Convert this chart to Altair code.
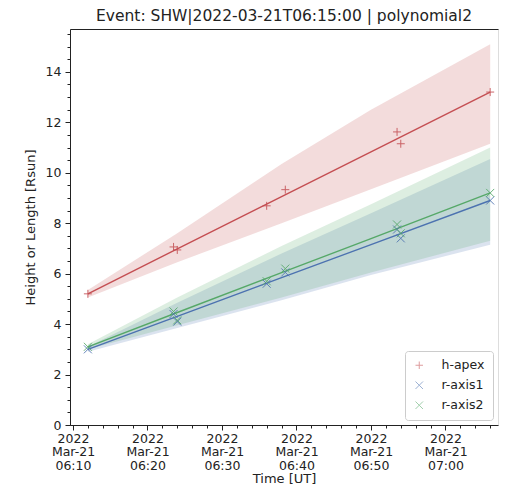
import altair as alt
import pandas as pd

# ---------------- data ----------------
series_names = ["h-apex", "r-axis1", "r-axis2"]
series_colors = ["#c44e52", "#4c72b0", "#55a868"]
marker_paths = ["M-1,0L1,0M0,-1L0,1", "M-1,-1L1,1M-1,1L1,-1", "M-1,-1L1,1M-1,1L1,-1"]

day = "2022-03-21T"
obs_times = ["06:12:00", "06:23:30", "06:24:00", "06:36:00", "06:38:30",
             "06:53:30", "06:54:00", "07:06:00"]
obs_h_apex = [5.2, 7.06, 6.94, 8.69, 9.33, 11.62, 11.15, 13.2]
obs_r_axis1 = [3.0, 4.4, 4.1, 5.6, 6.05, 7.75, 7.4, 8.9]
obs_r_axis2 = [3.1, 4.5, 4.15, 5.7, 6.2, 7.95, 7.6, 9.2]

fit_times = ["06:12:00", "06:24:00", "06:38:00", "06:50:00", "07:06:00"]
fit_h_apex = [5.2, 6.98, 9.05, 10.83, 13.2]
fit_h_apex_lo = [5.05, 6.45, 8.0, 9.35, 11.15]
fit_h_apex_hi = [5.35, 7.6, 10.35, 12.5, 15.1]
fit_r_axis1 = [3.0, 4.31, 5.84, 7.15, 8.9]
fit_r_axis1_lo = [2.9, 3.85, 4.95, 5.95, 7.15]
fit_r_axis1_hi = [3.1, 4.85, 6.8, 8.4, 10.55]
fit_r_axis2 = [3.1, 4.46, 6.04, 7.39, 9.2]
fit_r_axis2_lo = [3.0, 3.95, 5.05, 6.05, 7.3]
fit_r_axis2_hi = [3.2, 5.05, 7.1, 8.75, 11.0]

y_major = [0, 2, 4, 6, 8, 10, 12, 14]
y_minor = [i * 0.5 for i in range(32)]
x_major_minutes = [(6, 10), (6, 20), (6, 30), (6, 40), (6, 50), (7, 0)]
x_minor_minutes = [(6 + (10 + 2 * i) // 60, (10 + 2 * i) % 60) for i in range(29)]

title_text = "Event: SHW|2022-03-21T06:15:00 | polynomial2"

# ---------------- tables ----------------
obs_rows = []
for name, vals in zip(series_names, [obs_h_apex, obs_r_axis1, obs_r_axis2]):
    for t, v in zip(obs_times, vals):
        obs_rows.append({"time": day + t + "Z", "series": name, "value": v})
obs_df = pd.DataFrame(obs_rows)

fit_rows = []
for name, f, lo, hi in zip(series_names,
                           [fit_h_apex, fit_r_axis1, fit_r_axis2],
                           [fit_h_apex_lo, fit_r_axis1_lo, fit_r_axis2_lo],
                           [fit_h_apex_hi, fit_r_axis1_hi, fit_r_axis2_hi]):
    for t, a, b, c in zip(fit_times, f, lo, hi):
        fit_rows.append({"time": day + t + "Z", "series": name, "fit": a, "lo": b, "hi": c})
fit_df = pd.DataFrame(fit_rows)


def dt(h, m, s=0):
    return alt.DateTime(year=2022, month=3, date=21, hours=h, minutes=m, seconds=s, utc=True)


x_scale = alt.Scale(type="utc", domain=[dt(6, 9, 36), dt(7, 7, 3)])
y_scale = alt.Scale(domain=[0, 15.7], nice=False, zero=False)

FONT = "DejaVu Sans"
TXT = "#222222"

x_axis_major = alt.Axis(
    orient="bottom",
    values=[dt(h, m) for h, m in x_major_minutes],
    labelExpr="[utcFormat(datum.value, '%Y'), utcFormat(datum.value, '%b-%d'), utcFormat(datum.value, '%H:%M')]",
    labelLineHeight=13.5, labelFontSize=12.5, labelFont=FONT, labelColor=TXT,
    labelPadding=2, labelOverlap=False, labelFlush=False,
    tickSize=5, tickColor=TXT, domainColor=TXT, grid=False,
    title="Time [UT]", titleFont=FONT, titleFontSize=13, titleFontWeight="normal",
    titleColor=TXT, titlePadding=1,
)
y_axis_major = alt.Axis(
    orient="left",
    values=y_major, labelFontSize=12.5, labelFont=FONT, labelColor=TXT,
    labelPadding=4, tickSize=5, tickColor=TXT, domainColor=TXT, grid=False,
    title="Height or Length [Rsun]", titleFont=FONT, titleFontSize=13,
    titleFontWeight="normal", titleColor=TXT, titlePadding=8,
)
x_axis_minor = alt.Axis(orient="bottom", values=[dt(h, m) for h, m in x_minor_minutes],
                        labels=False, domain=False, grid=False, tickSize=3,
                        tickColor=TXT, title=None)
y_axis_minor = alt.Axis(orient="left", values=y_minor, labels=False, domain=False,
                        grid=False, tickSize=3, tickColor=TXT, title=None)
x_axis_top = alt.Axis(orient="top", labels=False, ticks=False, domain=True,
                      domainColor=TXT, grid=False, title=None)

color_scale = alt.Scale(domain=series_names, range=series_colors)
shape_scale = alt.Scale(domain=series_names, range=marker_paths)

bands = alt.Chart(fit_df).mark_area(opacity=0.2).encode(
    x=alt.X("time:T", scale=x_scale, axis=x_axis_major),
    y=alt.Y("lo:Q", scale=y_scale, axis=y_axis_major),
    y2="hi:Q",
    color=alt.Color("series:N", scale=color_scale, legend=None),
    detail="series:N",
)

lines = alt.Chart(fit_df).mark_line(strokeWidth=1.4).encode(
    x=alt.X("time:T", scale=x_scale),
    y=alt.Y("fit:Q", scale=y_scale),
    color=alt.Color("series:N", scale=color_scale, legend=None),
)

points = alt.Chart(obs_df).mark_point(filled=False, size=64, strokeWidth=1, opacity=0.85).encode(
    x=alt.X("time:T", scale=x_scale),
    y=alt.Y("value:Q", scale=y_scale),
    color=alt.Color("series:N", scale=color_scale,
                    legend=alt.Legend(title=None, orient="bottom-right", offset=5,
                                      strokeColor="#cccccc", fillColor="white",
                                      padding=8, cornerRadius=3, labelFont=FONT,
                                      labelFontSize=12.5, labelColor=TXT,
                                      symbolSize=56, symbolStrokeWidth=1,
                                      symbolOpacity=0.55,
                                      rowPadding=7, labelOffset=16)),
    shape=alt.Shape("series:N", scale=shape_scale),
)

minor = alt.Chart(obs_df).mark_point(opacity=0).encode(
    x=alt.X("time:T", scale=x_scale, axis=x_axis_minor),
    y=alt.Y("value:Q", scale=y_scale, axis=y_axis_minor),
)

top_frame = alt.Chart(obs_df).mark_point(opacity=0).encode(
    x=alt.X("time:T", scale=x_scale, axis=x_axis_top),
    y=alt.Y("value:Q", scale=y_scale, axis=None),
)

main = alt.layer(bands, lines, points).resolve_legend(color="independent", shape="independent")

chart = alt.layer(main, minor, top_frame).resolve_axis(x="independent", y="independent").properties(
    width=428, height=396,
    title=alt.TitleParams(title_text, font=FONT, fontSize=15.5, fontWeight="normal",
                          color=TXT, anchor="middle", offset=5),
    autosize=alt.AutoSizeParams(type="none"),
    padding={"left": 62, "top": 21, "right": 1, "bottom": 64},
).configure_view(strokeWidth=0).configure(background="white")

chart.save("out.html", embed_options={"renderer": "svg", "actions": False})
